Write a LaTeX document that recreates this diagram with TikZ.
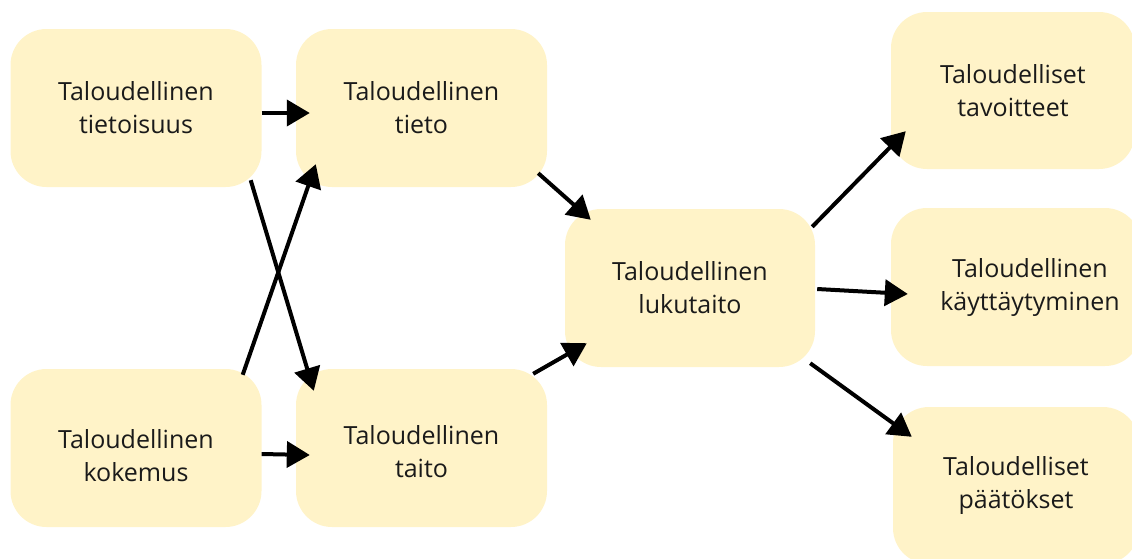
\documentclass[tikz,border=0pt]{standalone}
\usepackage{fontspec}
\setmainfont{Open Sans}
\usetikzlibrary{arrows.meta,calc}
\definecolor{boxfill}{HTML}{FFF3C8}
\definecolor{ink}{HTML}{1A1A1A}
\begin{document}
\begin{tikzpicture}[x=1pt,y=-1pt,
  card/.style={rectangle, rounded corners=36pt, fill=boxfill, draw=none,
    minimum width=251pt, minimum height=158pt, align=center, text=ink,
    font=\fontsize{25}{33}\selectfont, inner sep=0pt},
  cardtext/.style={align=center, text=ink, font=\fontsize{25}{33}\selectfont},
  link/.style={line width=4pt, black, -{Triangle[length=23pt,width=26pt]}}]
\useasboundingbox (0,0) rectangle (1132,558);
\clip (0,0) rectangle (1132,558);

% left column
\node[card] (A) at (136,108) {Taloudellinen\\tietoisuus};
\node[card, label={[cardtext, yshift=-8pt]center:Taloudellinen\\kokemus}] (C) at (136,448) {};
% second column
\node[card] (B) at (421.5,108) {Taloudellinen\\tieto};
\node[card, label={[cardtext, yshift=-4pt]center:Taloudellinen\\taito}] (D) at (421.5,448) {};
% centre
\node[card, minimum width=250pt] (E) at (690,288) {Taloudellinen\\lukutaito};
% right column, running off the page edge
\node[card, minimum width=244pt, minimum height=157pt] (F) at (1013,90.5) {Taloudelliset\\tavoitteet};
\node[card, minimum width=250pt, label={[cardtext, xshift=14pt]center:Taloudellinen\\käyttäytyminen}] (G) at (1016,287) {};
\node[card, minimum width=246pt, minimum height=157pt] (H) at (1016,485.5) {Taloudelliset\\päätökset};

% connectors
\draw[link] ($(A.east)+(0,5)$) -- ($(B.west)+(14,5)$);
\draw[link] ($(C.east)+(0,6)$) -- ($(D.west)+(14,7)$);
\draw[link] ($(A.south east)+(-11,-7)$) -- ($(D.north west)+(18,22)$);
\draw[link] ($(C.north east)+(-19,6)$) -- ($(B.south west)+(20,-23)$);
\draw[link] ($(B.south east)+(-9,-14)$) -- ($(E.north west)+(26,11)$);
\draw[link] ($(D.north east)+(-14,5)$) -- ($(E.south west)+(22,-24)$);
\draw[link] ($(E.north east)+(-3,18)$) -- ($(F.south west)+(15,-38)$);
\draw[link] ($(E.east)+(2,1)$) -- ($(G.west)+(17,7)$);
\draw[link] ($(E.south east)+(-5,-4)$) -- ($(H.north west)+(19,30)$);
\end{tikzpicture}
\end{document}
